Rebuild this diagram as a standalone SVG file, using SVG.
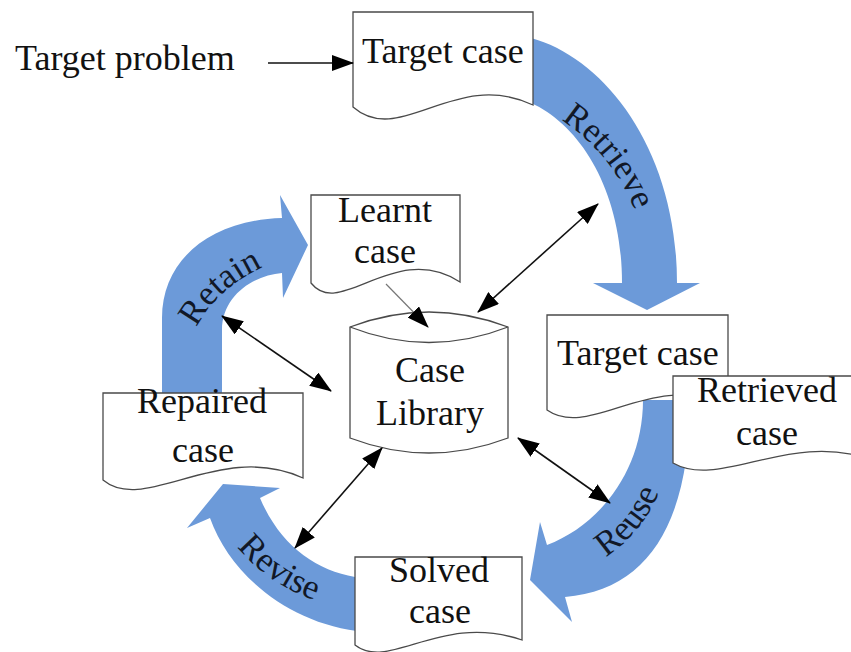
<svg xmlns="http://www.w3.org/2000/svg" width="851" height="652" viewBox="0 0 851 652">
  <style>
    .doc { fill: #fff; stroke: #4a4a4a; stroke-width: 1.3; }
    .lbl { font-family: "Liberation Serif", "Times New Roman", serif; font-size: 36px; fill: #111; }
    .mid { text-anchor: middle; }
    .band { fill: #6c9ad9; }
    .step { font-family: "Liberation Serif", "Times New Roman", serif; font-size: 35px; fill: #111827; }
    .link { stroke: #111; stroke-width: 1.6; fill: none; }
  </style>
  <defs>
    <marker id="head" viewBox="0 0 22 16" markerUnits="userSpaceOnUse" markerWidth="22" markerHeight="16" refX="21" refY="8" orient="auto-start-reverse">
      <path d="M0,0 L22,8 L0,16 Z" fill="#000"/>
    </marker>
    <!-- baselines for the curved step labels -->
    <path id="pRetrieve" d="M548,112 C590,135 625,175 640,225"/>
    <path id="pReuse" d="M580,570 C620,555 655,520 668,465"/>
    <path id="pRevise" d="M222,525 C245,565 285,595 340,608"/>
    <path id="pRetain" d="M188,348 C203,303 233,278 283,258"/>
  </defs>

  <!-- the four cycle steps as broad curved arrows -->
  <g id="flow">
    <g id="retrieve">
      <path class="band" d="M531,38 C605,58 677,150 677,283 L700,283 L647,310 L593,283 L622,283 C622,190 580,125 531,103 Z"/>
      <text class="step"><textPath href="#pRetrieve" startOffset="50%" text-anchor="middle">Retrieve</textPath></text>
    </g>
    <g id="reuse">
      <path class="band" d="M640,400 L690,400 C690,520 650,590 565,597 L572,622 L530,580 L540,522 L547,545 C600,525 643,470 643,400 Z"/>
      <text class="step"><textPath href="#pReuse" startOffset="50%" text-anchor="middle">Reuse</textPath></text>
    </g>
    <g id="revise">
      <path class="band" d="M365,577 L355,577 C315,570 280,545 260,498 L280,488 L223,484 L187,528 L210,518 C230,575 290,625 365,632 Z"/>
      <text class="step"><textPath href="#pRevise" startOffset="50%" text-anchor="middle">Revise</textPath></text>
    </g>
    <g id="retain">
      <path class="band" d="M162,398 L162,318 C162,260 210,220 282,218 L280,195 L308,245 L283,298 L282,273 C255,275 222,295 222,330 L222,398 Z"/>
      <text class="step"><textPath href="#pRetain" startOffset="50%" text-anchor="middle">Retain</textPath></text>
    </g>
  </g>

  <g id="target-problem">
    <text class="lbl" x="15" y="70">Target problem</text>
  </g>

  <g id="target-case">
    <path class="doc" d="M353,12 L533,12 L533,105 C455,68 400,148 353,107 Z"/>
    <text class="lbl" x="362" y="63">Target case</text>
  </g>

  <g id="learnt-case">
    <path class="doc" d="M311,195 L460,195 L460,282 C395,240 340,320 311,283 Z"/>
    <text class="lbl mid" x="385" y="222">Learnt</text>
    <text class="lbl mid" x="385" y="263">case</text>
  </g>

  <g id="case-library">
    <path class="doc" d="M350,327 Q429,297 508,327 L508,438 Q429,468 350,438 Z"/>
    <path class="doc" d="M350,327 Q429,358 508,327" fill="none"/>
    <text class="lbl mid" x="430" y="382">Case</text>
    <text class="lbl mid" x="430" y="425">Library</text>
  </g>

  <g id="repaired-case">
    <path class="doc" d="M103,393 L303,393 L303,478 C220,440 145,515 103,480 Z"/>
    <text class="lbl mid" x="202" y="413">Repaired</text>
    <text class="lbl mid" x="203" y="462">case</text>
  </g>

  <g id="solved-case">
    <path class="doc" d="M355,557 L522,557 L522,640 C440,612 390,672 355,645 Z"/>
    <text class="lbl mid" x="439" y="582">Solved</text>
    <text class="lbl mid" x="440" y="623">case</text>
  </g>

  <g id="target-case-2">
    <path class="doc" d="M547,315 L728,315 L728,405 C650,370 590,440 547,410 Z"/>
    <text class="lbl" x="557" y="365">Target case</text>
  </g>

  <g id="retrieved-case">
    <path class="doc" d="M673,376 L872,376 L872,460 C790,430 720,490 673,463 Z"/>
    <text class="lbl mid" x="767" y="402">Retrieved</text>
    <text class="lbl mid" x="767" y="445">case</text>
  </g>

  <!-- plain connectors -->
  <g id="connectors">
    <line class="link" x1="268" y1="63" x2="353" y2="63" marker-end="url(#head)"/>
    <line x1="386" y1="284" x2="428" y2="327" stroke="#777" stroke-width="1.2" marker-end="url(#head)"/>
    <line class="link" x1="598" y1="204" x2="478" y2="312" marker-start="url(#head)" marker-end="url(#head)"/>
    <line class="link" x1="222" y1="316" x2="331" y2="391" marker-start="url(#head)" marker-end="url(#head)"/>
    <line class="link" x1="382" y1="448" x2="295" y2="548" marker-start="url(#head)" marker-end="url(#head)"/>
    <line class="link" x1="518" y1="438" x2="610" y2="503" marker-start="url(#head)" marker-end="url(#head)"/>
  </g>
</svg>
